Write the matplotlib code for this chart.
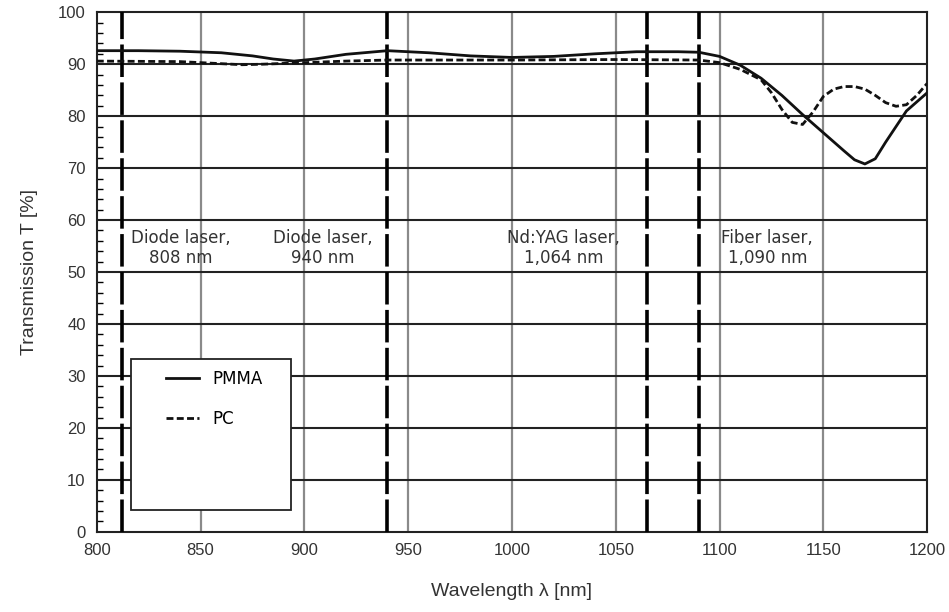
import numpy as np
import matplotlib
matplotlib.use("Agg")
import matplotlib.pyplot as plt
from matplotlib.patches import Rectangle

# transmission curves
wl_pmma = [800, 820, 840, 860, 875, 885, 895, 905, 920, 940, 960, 980, 1000, 1020,
           1040, 1060, 1080, 1090, 1100, 1110, 1120, 1130, 1140, 1150, 1160, 1165,
           1170, 1175, 1180, 1190, 1200]
t_pmma = [92.6, 92.6, 92.5, 92.2, 91.6, 91.0, 90.6, 91.0, 91.9, 92.6, 92.2, 91.6, 91.3, 91.5,
          92.0, 92.4, 92.4, 92.3, 91.5, 89.8, 87.3, 84.0, 80.3, 76.8, 73.3, 71.6,
          70.8, 71.8, 75.0, 81.0, 84.5]

wl_pc = [800, 840, 860, 870, 880, 900, 920, 940, 1000, 1050, 1090, 1100, 1110, 1120,
         1125, 1130, 1135, 1140, 1145, 1150, 1155, 1160, 1165, 1170, 1175, 1180,
         1185, 1190, 1195, 1200]
t_pc = [90.6, 90.5, 90.1, 89.9, 90.0, 90.3, 90.6, 90.8, 90.8, 90.9, 90.8, 90.3, 89.0, 87.0,
        84.5, 81.3, 78.8, 78.4, 80.8, 83.8, 85.2, 85.7, 85.7, 85.2, 84.0, 82.6,
        81.9, 82.2, 84.0, 86.3]

# laser wavelengths (vertical markers) and their labels
laser_wl = [812, 940, 1065, 1090]
laser_labels = ["Diode laser,\n808 nm", "Diode laser,\n940 nm",
                "Nd:YAG laser,\n1,064 nm", "Fiber laser,\n1,090 nm"]
label_x = [840.5, 909, 1025, 1123]

fig = plt.figure(figsize=(9.49, 6.12), dpi=100)
ax = fig.add_axes([0.102, 0.131, 0.875, 0.849])

ax.set_xlim(800, 1200)
ax.set_ylim(0, 100)
ax.set_xticks(np.arange(800, 1201, 50))
ax.set_yticks(np.arange(0, 101, 10))
ax.set_yticks(np.arange(0, 101, 2), minor=True)

# grid: grey verticals, black horizontals
for x in np.arange(850, 1200, 50):
    ax.axvline(x, color="#8a8a8a", lw=1.6, zorder=1)
for y in np.arange(10, 100, 10):
    ax.axhline(y, color="#222222", lw=1.5, zorder=1)

for x in laser_wl:
    ax.axvline(x, color="black", lw=2.6, dashes=(9, 1.5), zorder=3)

ax.plot(wl_pmma, t_pmma, color="#111111", lw=2, zorder=4, label="PMMA")
ax.plot(wl_pc, t_pc, color="#111111", lw=2, dashes=(2.5, 1.2), zorder=4, label="PC")

for x, s in zip(label_x, laser_labels):
    ax.text(x, 54.6, s, ha="center", va="center", fontsize=12, color="#333333",
            family="DejaVu Sans", linespacing=1.1, zorder=5)

# legend box
ax.add_patch(Rectangle((816.5, 4.2), 77, 29, facecolor="white", edgecolor="#222222",
                       lw=1.3, zorder=6))
leg = ax.legend(loc="upper left", bbox_to_anchor=(0.065, 0.34), frameon=False,
                fontsize=12, handlelength=2.0, labelspacing=1.3)
leg.set_zorder(7)

for s in ax.spines.values():
    s.set_linewidth(1.5)
    s.set_color("#222222")
ax.tick_params(which="major", length=0, labelsize=12, colors="#333333", pad=8)
ax.tick_params(which="minor", axis="y", direction="in", length=4, width=1)
ax.tick_params(which="minor", axis="x", length=0)
for lab in ax.get_xticklabels() + ax.get_yticklabels():
    lab.set_family("Liberation Sans")

ax.set_xlabel("Wavelength λ [nm]", fontsize=14, color="#333333", labelpad=18,
              family=["Liberation Sans", "DejaVu Sans"])
ax.set_ylabel("Transmission T [%]", fontsize=14, color="#333333", labelpad=14,
              family=["Liberation Sans", "DejaVu Sans"])

fig.savefig("out.png", dpi=100)
